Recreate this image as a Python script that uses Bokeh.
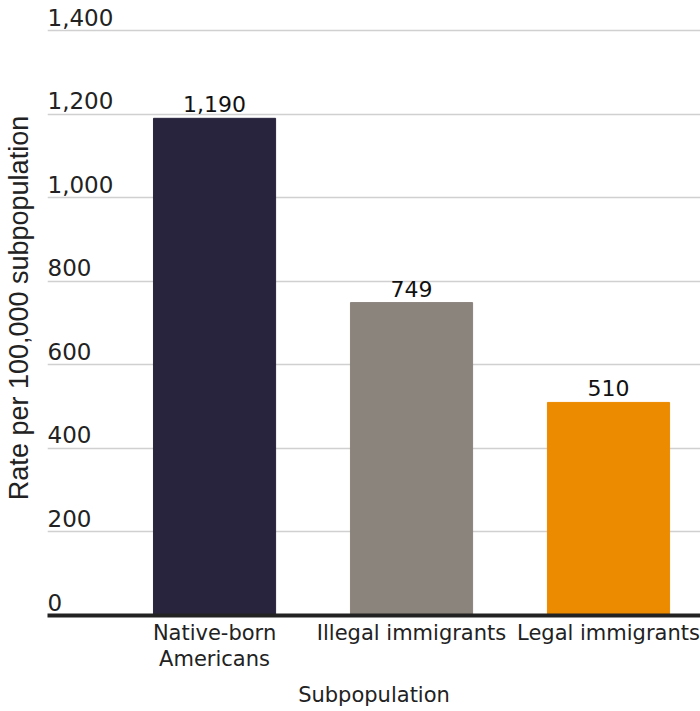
from bokeh.plotting import figure
from bokeh.models import Range1d, FixedTicker, ColumnDataSource
from bokeh.core.properties import value
from bokeh.embed import file_html
from bokeh.resources import INLINE

# ---- data ----
categories = ["Native-born\nAmericans", "Illegal immigrants", "Legal immigrants"]
rates = [1190, 749, 510]
bar_colors = ["#29243d", "#8b847d", "#ec8b00"]
y_ticks = [0, 200, 400, 600, 800, 1000, 1200, 1400]
y_tick_labels = ["0", "200", "400", "600", "800", "1,000", "1,200", "1,400"]

xs = list(range(len(categories)))
X_START, X_END = -0.848, 2.467

p = figure(width=700, height=711, output_backend="svg", toolbar_location=None,
           x_range=Range1d(X_START, X_END), y_range=Range1d(0, 1472),
           min_border_left=47, min_border_right=0, min_border_top=0,
           min_border_bottom=96)
p.outline_line_color = None
p.background_fill_color = "white"

src = ColumnDataSource(dict(x=xs, top=rates, color=bar_colors,
                            label=[f"{v:,}" for v in rates]))
p.vbar(x="x", top="top", bottom=0, width=0.62, color="color", source=src)

p.text(x="x", y="top", text="label", source=src, text_align="center",
       text_baseline="bottom", y_offset=-6,
       text_font=value("DejaVu Sans"), text_font_size="22px", text_color="#111111")

# y tick labels placed above gridlines
tsrc = ColumnDataSource(dict(x=[X_START] * len(y_ticks), y=y_ticks, t=y_tick_labels))
p.text(x="x", y="y", text="t", source=tsrc, text_align="left",
       text_baseline="bottom", x_offset=0, y_offset=-5,
       text_font=value("DejaVu Sans"), text_font_size="23px", text_color="#222222")

# grid
p.xgrid.visible = False
p.ygrid.ticker = FixedTicker(ticks=y_ticks[1:])
p.ygrid.grid_line_color = "#d0d0d0"
p.ygrid.grid_line_width = 1.5

# y axis: title only
p.yaxis.ticker = FixedTicker(ticks=[])
p.yaxis.axis_line_color = None
p.yaxis.major_tick_line_color = None
p.yaxis.minor_tick_line_color = None
p.yaxis.major_tick_out = 0
p.yaxis.major_tick_in = 0
p.yaxis.major_label_standoff = 0
p.yaxis.axis_label = "Rate per 100,000 subpopulation"
p.yaxis.axis_label_text_font = "Liberation Sans"
p.yaxis.axis_label_text_font_size = "27px"
p.yaxis.axis_label_text_font_style = "normal"
p.yaxis.axis_label_text_color = "#222222"
p.yaxis.axis_label_standoff = 14

# x axis
p.xaxis.ticker = FixedTicker(ticks=xs)
p.xaxis.major_label_overrides = {i: c for i, c in zip(xs, categories)}
p.xaxis.axis_line_color = "#222222"
p.xaxis.axis_line_width = 4
p.xaxis.major_tick_line_color = None
p.xaxis.minor_tick_line_color = None
p.xaxis.major_tick_out = 0
p.xaxis.major_tick_in = 0
p.xaxis.major_label_standoff = 5
p.xaxis.major_label_text_font = "DejaVu Sans"
p.xaxis.major_label_text_font_size = "21px"
p.xaxis.major_label_text_color = "#222222"
p.xaxis.major_label_text_line_height = 1.1
p.xaxis.axis_label = "Subpopulation"
p.xaxis.axis_label_text_font = "DejaVu Sans"
p.xaxis.axis_label_text_font_size = "21px"
p.xaxis.axis_label_text_font_style = "normal"
p.xaxis.axis_label_text_color = "#222222"
p.xaxis.axis_label_standoff = 9

open("out.html", "w").write(file_html(p, INLINE))
